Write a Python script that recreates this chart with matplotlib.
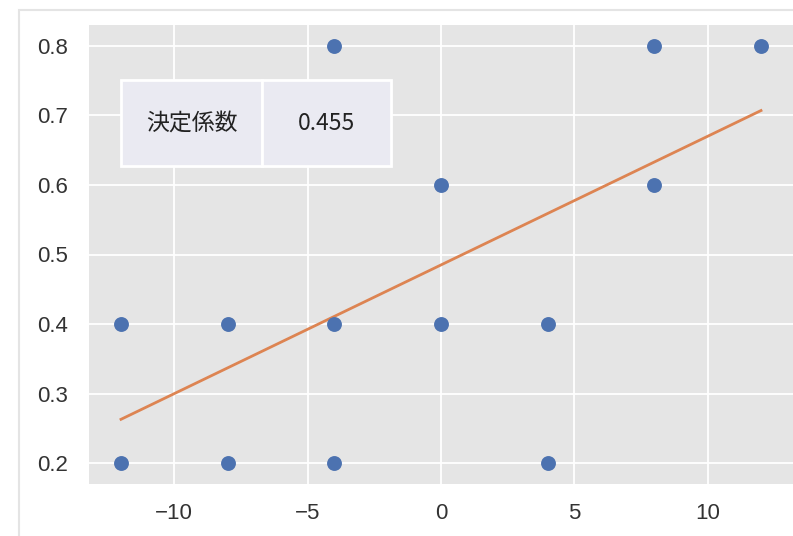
import matplotlib
matplotlib.use('Agg')
import numpy as np
import matplotlib.pyplot as plt
from matplotlib.patches import Rectangle

# data
x = [-12, -12, -8, -8, -4, -4, -4, 0, 0, 4, 4, 8, 8, 12]
y = [0.4, 0.2, 0.4, 0.2, 0.8, 0.4, 0.2, 0.6, 0.4, 0.4, 0.2, 0.8, 0.6, 0.8]
slope = 0.0185
intercept = 0.485
r2_label = '決定係数'
r2_value = '0.455'

xticks = [-10, -5, 0, 5, 10]
yticks = [0.2, 0.3, 0.4, 0.5, 0.6, 0.7, 0.8]

fig = plt.figure(figsize=(7.93, 5.36), dpi=100)
ax = fig.add_axes([89 / 793, 1 - 484 / 536, (793 - 89) / 793, (484 - 25) / 536])

# thin border of the screenshot
fig.patches.append(Rectangle((19 / 793, -0.1), 1.2, 1 - 10 / 536 + 0.1,
                             transform=fig.transFigure, fill=False,
                             edgecolor='#e4e4e4', linewidth=1.5))

ax.set_facecolor('#e5e5e5')
for sp in ax.spines.values():
    sp.set_visible(False)
ax.grid(True, color='white', linewidth=1.3)
ax.set_axisbelow(True)

ax.scatter(x, y, s=115, color='#4c72b0', zorder=3, linewidths=0)
xs = np.array([min(x), max(x)])
ax.plot(xs, slope * xs + intercept, color='#dd8452', linewidth=2, zorder=2)

ax.set_xlim(-13.2, 13.2)
ax.set_ylim(0.17, 0.83)
ax.set_xticks(xticks)
ax.set_yticks(yticks)
ax.set_xticklabels(['\u221210', '\u22125', '0', '5', '10'])
ax.tick_params(length=0, labelsize=16, labelcolor='#333333',
               labelfontfamily='Liberation Sans')
ax.tick_params(axis='y', pad=15)
ax.tick_params(axis='x', pad=14)

tb = ax.table(cellText=[[r2_label, r2_value]],
              cellColours=[['#eaeaf2', '#eaeaf2']],
              cellLoc='center',
              bbox=[(121 - 89) / 704, (484 - 166) / 459, (391 - 121) / 704, (166 - 80) / 459])
tb.auto_set_font_size(False)
for (r, c), cell in tb.get_celld().items():
    cell.set_edgecolor('white')
    cell.set_linewidth(2)
    cell.get_text().set_fontsize(16.5)
    cell.get_text().set_fontfamily(['Noto Sans CJK JP', 'DejaVu Sans'])
    cell.get_text().set_color('#222222')
tb.get_celld()[(0, 0)].set_width((262 - 121) / 704)
tb.get_celld()[(0, 1)].set_width((391 - 262) / 704)
tb.set_zorder(4)

fig.savefig('out.png', dpi=100)
